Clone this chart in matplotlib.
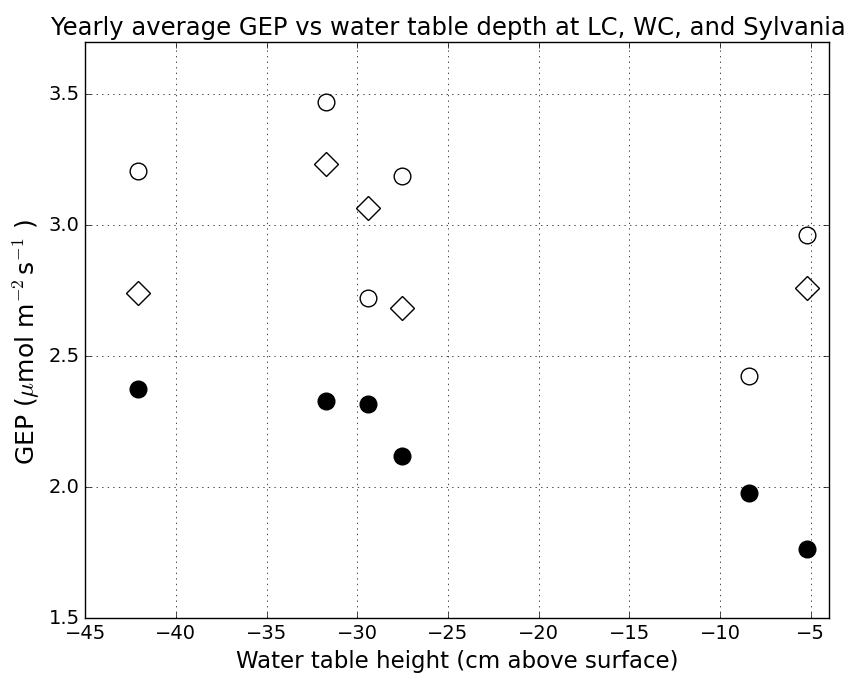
# 연평균 GEP vs 지하수위
import matplotlib

matplotlib.use("Agg")
import matplotlib.pyplot as plt

plt.style.use("classic")
plt.rcParams["mathtext.fontset"] = "cm"

# --- 데이터 ---
# 속이 빈 원
open_x = [-42.1, -31.7, -29.4, -27.55, -8.4, -5.2]
open_y = [3.206, 3.472, 2.721, 3.188, 2.425, 2.961]

# 다이아몬드
diam_x = [-42.1, -31.7, -29.4, -27.55, -5.2]
diam_y = [2.741, 3.234, 3.065, 2.682, 2.759]

# 속이 찬 원
fill_x = [-42.1, -31.7, -29.4, -27.55, -8.4, -5.2]
fill_y = [2.373, 2.33, 2.318, 2.118, 1.979, 1.763]

fig = plt.figure(figsize=(8.52, 6.74), dpi=100, facecolor="white")
ax = fig.add_axes([0.1, 0.083, 0.873, 0.855])

ax.plot(open_x, open_y, "o", ms=12, mfc="white", mec="black", mew=1)
ax.plot(diam_x, diam_y, "D", ms=12, mfc="white", mec="black", mew=1)
ax.plot(fill_x, fill_y, "o", ms=12, mfc="black", mec="black", mew=1)

ax.set_xlim(-45, -4)
ax.set_ylim(1.5, 3.7)
ax.set_yticks([1.5, 2.0, 2.5, 3.0, 3.5])
ax.tick_params(labelsize=14)
ax.grid(True)

ax.set_title("Yearly average GEP vs water table depth at LC, WC, and Sylvania",
             fontsize=17.5, x=0.488)
ax.set_xlabel("Water table height (cm above surface)", fontsize=16.5)
ax.set_ylabel(r"GEP ($\mu$mol m$^{-2}\,$s$^{-1}$ )", fontsize=18, y=0.48)

fig.savefig("out.png", dpi=100, facecolor="white")
